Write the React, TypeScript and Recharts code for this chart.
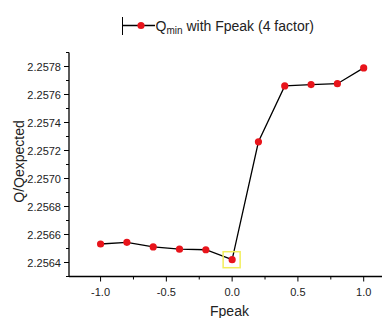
import React from "react";
import { LineChart, Line, XAxis, YAxis, Legend } from "recharts";

const fpeak = [-1.0, -0.8, -0.6, -0.4, -0.2, 0.0, 0.2, 0.4, 0.6, 0.8, 1.0];
const qRatio = [2.256532, 2.256544, 2.256511, 2.256495, 2.256491, 2.25642, 2.257262, 2.257661, 2.257671, 2.257677, 2.25779];
const highlighted = [0.0];
const xTicks = [-1.0, -0.75, -0.5, -0.25, 0.0, 0.25, 0.5, 0.75, 1.0];
const yTicks = [2.2563, 2.2564, 2.2565, 2.2566, 2.2567, 2.2568, 2.2569, 2.257, 2.2571, 2.2572, 2.2573, 2.2574, 2.2575, 2.2576, 2.2577, 2.2578, 2.2579];
const xDomain = [-1.24, 1.2];
const yDomain = [2.2563, 2.2579];

const data = fpeak.map((f, i) => ({ f, q: qRatio[i] }));

const FONT = "'Liberation Sans', Arial, sans-serif";
const TEXT = "#222";

const YTick = (props: any) => {
  const { x, y, payload } = props;
  const v = payload.value;
  const major = Math.round(v * 1e4) % 2 === 0;
  const len = major ? 5 : 3;
  return (
    <g>
      <line x1={x - len} x2={x} y1={y} y2={y} stroke="#000" strokeWidth={1} />
      {major && (
        <text x={x - 8} y={y} dy={4} textAnchor="end" fontSize={11} fontFamily={FONT} fill={TEXT}>
          {v.toFixed(4)}
        </text>
      )}
    </g>
  );
};

const XTick = (props: any) => {
  const { x, y, payload } = props;
  const v = payload.value;
  const major = Math.round(v * 100) % 50 === 0;
  const len = major ? 5 : 3;
  return (
    <g>
      <line x1={x} x2={x} y1={y} y2={y + len} stroke="#000" strokeWidth={1} />
      {major && (
        <text x={x} y={y + 19} textAnchor="middle" fontSize={11} fontFamily={FONT} fill={TEXT}>
          {v.toFixed(1)}
        </text>
      )}
    </g>
  );
};

const Dot = (props: any) => {
  const { cx, cy, payload } = props;
  const hl = highlighted.includes(payload.f);
  return (
    <g>
      {hl && (
        <rect x={cx - 9} y={cy - 8} width={17} height={16} fill="none" stroke="#f2ee5a" strokeWidth={1.5} />
      )}
      <circle cx={cx} cy={cy} r={3.6} fill="#e8141b" />
    </g>
  );
};

const XLabel = (props: any) => {
  const vb = props.viewBox || {};
  const cx = vb.x + vb.width / 2;
  return (
    <text x={cx} y={316} textAnchor="middle" fontSize={14} fontFamily={FONT} fill={TEXT}>
      Fpeak
    </text>
  );
};

const YLabel = (props: any) => {
  const vb = props.viewBox || {};
  const cy = vb.y + vb.height / 2 - 3;
  return (
    <text x={0} y={0} transform={`translate(24, ${cy}) rotate(-90)`} textAnchor="middle" fontSize={14} fontFamily={FONT} fill={TEXT}>
      Q/Qexpected
    </text>
  );
};

const LegendContent = () => (
  <svg width={390} height={40} style={{ display: "block" }}>
    <line x1={122.5} x2={122.5} y1={17} y2={35} stroke="#000" strokeWidth={1} />
    <line x1={122.5} x2={155} y1={25.5} y2={25.5} stroke="#000" strokeWidth={1.3} />
    <circle cx={141} cy={25.5} r={3.6} fill="#e8141b" />
    <text x={155.5} y={30.5} fontSize={14} fontFamily={FONT} fill={TEXT}>
      Q
      <tspan fontSize={10} dy={3}>min</tspan>
      <tspan dy={-3}> with Fpeak (4 factor)</tspan>
    </text>
  </svg>
);

export default function App() {
  return (
    <div style={{ margin: "-8px 0 0 -8px", width: 390, height: 318 }}>
      <LineChart width={390} height={318} data={data} margin={{ top: 12.5, right: 0, bottom: 0, left: 0 }}>
        <XAxis
          dataKey="f"
          type="number"
          domain={xDomain}
          ticks={xTicks}
          interval={0}
          allowDataOverflow
          height={41.5}
          tickSize={0}
          tickMargin={0}
          tickLine={false}
          axisLine={{ stroke: "#000", strokeWidth: 1.3 }}
          tick={<XTick />}
          label={<XLabel />}
        />
        <YAxis
          type="number"
          domain={yDomain}
          ticks={yTicks}
          interval={0}
          allowDataOverflow
          width={69}
          tickSize={0}
          tickMargin={0}
          tickLine={false}
          axisLine={{ stroke: "#000", strokeWidth: 1.3 }}
          tick={<YTick />}
          label={<YLabel />}
        />
        <Legend
          verticalAlign="top"
          content={<LegendContent />}
          wrapperStyle={{ position: "absolute", left: 0, top: 0, width: 390, height: 40, pointerEvents: "none" }}
        />
        <Line
          type="linear"
          dataKey="q"
          stroke="#000"
          strokeWidth={1.3}
          dot={<Dot />}
          isAnimationActive={false}
        />
      </LineChart>
    </div>
  );
}
